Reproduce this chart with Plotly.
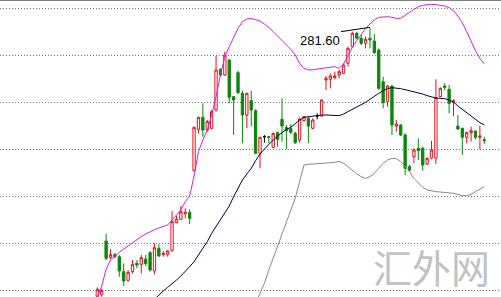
import numpy as np
import plotly.graph_objects as go

# ---- data ----
opens = [241.25, 241.5, 249.55, 247.1, 247.5, 247.2, 244.95, 243.65, 244.95, 246.2,
         246.05, 246.85, 247.8, 245.05, 248.45, 247.5, 247.55, 248.1, 252.3, 252.8,
         253.65, 253.85, 260.1, 266.3, 268.1, 266.2, 266.45, 269.2, 275.3, 274.45,
         276.7, 271.2, 274.8, 271.7, 268.45, 270.6, 269.1, 262.7, 265.2, 265.2,
         263.6, 265.8, 267.8, 266.55, 266.4, 265.7, 264.7, 267.6, 267.95, 266.45,
         268.3, 268.3, 273.7, 273.8, 274.05, 274.45, 274.7, 276.2, 278.7, 280.7,
         279.95, 279.2, 279.95, 279.55, 278.2, 273.45, 270.45, 272.8, 266.8, 266.95,
         265.45, 260.7, 262.2, 263.45, 263.45, 261.1, 262.0, 262.0, 271.2, 272.8,
         272.3, 270.3, 266.8, 266.45, 265.1, 265.8, 266.05, 265.1, 264.75]
highs = [242.6, 242.4, 250.65, 248.3, 247.8, 247.45, 246.2, 245.2, 246.7, 246.7,
         247.45, 247.45, 248.05, 249.2, 249.05, 248.05, 248.2, 254.05, 253.3, 254.8,
         254.45, 254.3, 266.7, 268.2, 270.2, 267.7, 269.2, 277.3, 275.45, 277.95,
         276.8, 271.3, 275.1, 272.1, 271.8, 272.1, 269.3, 265.2, 265.45, 265.3,
         265.8, 265.95, 270.95, 266.95, 267.1, 265.95, 268.1, 268.3, 268.2, 267.95,
         268.7, 270.8, 274.3, 274.7, 274.95, 275.2, 276.2, 278.7, 280.95, 280.95,
         280.45, 280.2, 281.6, 280.6, 278.45, 274.2, 272.95, 272.95, 267.7, 267.1,
         265.7, 260.95, 263.45, 264.95, 263.7, 262.1, 264.6, 273.8, 272.6, 273.2,
         272.95, 270.8, 268.45, 266.55, 265.95, 266.7, 266.1, 266.8, 265.2]
lows = [240.95, 241.2, 246.7, 246.8, 246.95, 244.2, 242.8, 243.45, 244.7, 245.45,
        244.7, 245.8, 244.95, 244.55, 247.2, 247.2, 247.2, 247.95, 252.2, 252.7,
        252.95, 252.1, 259.95, 265.7, 265.2, 265.95, 266.3, 268.95, 274.3, 274.3,
        270.2, 265.45, 271.6, 264.2, 266.45, 266.7, 262.6, 260.45, 264.3, 264.2,
        263.45, 263.7, 264.45, 263.3, 265.6, 264.1, 264.3, 267.45, 264.2, 266.3,
        267.8, 268.2, 272.2, 272.45, 273.8, 273.95, 274.6, 275.7, 278.55, 279.8,
        278.95, 278.45, 278.45, 277.6, 272.2, 269.45, 269.7, 265.45, 265.95, 265.3,
        259.45, 259.95, 261.2, 261.7, 260.1, 260.95, 261.8, 261.1, 271.1, 272.2,
        268.7, 268.3, 266.2, 262.45, 264.2, 264.45, 264.8, 263.3, 264.1]
closes = [242.3, 242.1, 246.95, 247.5, 247.2, 245.05, 243.55, 244.85, 246.05, 245.95,
          247.05, 246.15, 245.2, 248.55, 247.3, 247.7, 248.05, 252.45, 252.85, 253.95,
          253.85, 252.95, 266.6, 268.1, 266.2, 267.45, 268.95, 275.2, 274.45, 277.45,
          271.1, 270.7, 271.8, 268.45, 271.7, 269.2, 262.7, 265.1, 265.2, 265.1,
          265.7, 264.8, 266.8, 266.1, 265.85, 264.3, 267.8, 268.2, 266.8, 267.7,
          268.3, 270.7, 273.95, 274.3, 274.3, 274.95, 275.95, 278.45, 280.7, 279.95,
          279.2, 279.8, 279.7, 277.8, 272.45, 270.3, 272.8, 266.95, 267.1, 265.45,
          260.45, 260.2, 263.2, 263.1, 260.95, 261.95, 263.2, 271.05, 272.45, 272.6,
          270.2, 270.6, 266.35, 265.1, 265.8, 266.1, 265.1, 265.3, 264.6]
doji_idx = [38, 50]

upper_band = [241.15, 242.8, 245.3, 246.7, 247.3, 247.85, 248.35, 248.8, 249.3, 249.8,
              250.2, 250.6, 250.95, 251.25, 251.5, 251.7, 251.95, 252.7, 253.45, 254.2,
              255.45, 256.3, 259.3, 262.95, 264.7, 266.2, 268.45, 271.2, 274.45, 277.2,
              278.7, 280.1, 281.45, 282.45, 282.85, 282.95, 282.8, 282.55, 282.1, 281.6,
              280.95, 280.3, 279.6, 279.05, 278.3, 277.45, 276.2, 275.45, 275.2, 275.25,
              275.35, 275.45, 275.55, 275.65, 275.7, 275.45, 276.1, 277.3, 278.6, 279.6,
              280.6, 281.4, 282.1, 282.7, 283.1, 283.2, 283.2, 283.1, 282.95, 282.95,
              283.35, 283.85, 284.3, 284.7, 284.9, 285.0, 285.05, 285.0, 284.95, 284.8,
              284.55, 284.1, 283.3, 282.3, 280.95, 279.45, 278.1, 276.95, 276.1]
mid_start = 12
mid_band = [240.2, 240.85, 241.4, 242.05, 242.6, 243.1, 243.7, 244.3, 244.95, 245.7,
            246.45, 247.45, 248.3, 249.45, 250.7, 251.7, 252.7, 253.7, 254.8, 256.2,
            257.45, 258.7, 259.6, 260.45, 261.6, 262.6, 263.35, 264.1, 264.7, 265.3,
            265.8, 266.3, 266.6, 267.2, 267.7, 268.1, 268.2, 268.3, 268.35, 268.45,
            268.45, 268.45, 268.45, 268.35, 268.6, 268.95, 269.2, 269.55, 269.95, 270.35,
            270.8, 271.3, 271.7, 272.1, 272.4, 272.55, 272.5, 272.4, 272.25, 272.1,
            271.95, 271.8, 271.6, 271.35, 271.15, 271.0, 270.95, 270.9, 270.7, 270.4,
            269.8, 269.3, 268.8, 268.3, 267.8, 267.3, 266.95]
low_start = 36
lower_band = [240.2, 241.7, 243.2, 245.2, 246.95, 248.7, 250.45, 252.2, 253.95, 255.95,
              258.45, 260.95, 261.05, 261.1, 261.15, 261.2, 261.2, 261.25, 261.35, 261.5,
              261.2, 260.7, 260.1, 259.6, 259.2, 258.95, 259.2, 259.7, 260.45, 261.2,
              261.7, 261.95, 261.9, 261.45, 260.7, 259.95, 258.95, 258.2, 257.6, 257.2,
              257.05, 256.95, 256.9, 256.85, 256.8, 256.7, 256.55, 256.35, 256.35, 256.55,
              256.95, 257.35, 257.7]
grid_levels = [284.4, 277.35, 270.3, 263.25, 256.2, 249.15, 242.1]
watermark = "汇外网"

# ---- figure ----
n = len(opens)
x = np.arange(n)
o, h, l, c = map(np.array, (opens, highs, lows, closes))
is_doji = np.isin(x, doji_idx)
norm = ~is_doji

RED = "#e3121c"
GREEN = "#0b870b"

fig = go.Figure()
fig.add_trace(go.Candlestick(
    x=x[norm], open=o[norm], high=h[norm], low=l[norm], close=c[norm],
    increasing=dict(line=dict(color=RED, width=1), fillcolor="white"),
    decreasing=dict(line=dict(color=GREEN, width=1), fillcolor=GREEN),
    showlegend=False, hoverinfo="skip"))
fig.add_trace(go.Candlestick(
    x=x[is_doji], open=o[is_doji], high=h[is_doji], low=l[is_doji], close=c[is_doji],
    increasing=dict(line=dict(color="black", width=1), fillcolor="black"),
    decreasing=dict(line=dict(color="black", width=1), fillcolor="black"),
    showlegend=False, hoverinfo="skip"))

fig.add_trace(go.Scatter(x=x, y=upper_band, mode="lines",
                         line=dict(color="#d81ed8", width=1), showlegend=False))
fig.add_trace(go.Scatter(x=x[mid_start:mid_start + len(mid_band)], y=mid_band, mode="lines",
                         line=dict(color="#000050", width=1), showlegend=False))
fig.add_trace(go.Scatter(x=x[low_start:low_start + len(lower_band)], y=lower_band, mode="lines",
                         line=dict(color="#8a8a8a", width=1), showlegend=False))

# peak label with leader line
pk = int(np.argmax(h))
peak = float(h[pk])
fig.add_shape(type="line", x0=pk - 6.6, y0=peak - 0.65, x1=pk, y1=peak,
              line=dict(color="black", width=1))
fig.add_annotation(x=pk, y=peak, text=f"{peak:.2f}", showarrow=False,
                   xshift=-50, yshift=-13,
                   font=dict(family="Liberation Sans", size=13, color="black"))

# watermark
fig.add_annotation(xref="paper", yref="paper", x=0.861, y=0.106, text=watermark,
                   xanchor="center", yanchor="middle", showarrow=False,
                   font=dict(family="Noto Sans CJK SC", size=39, color="#c2c2c2"))

# top border
fig.add_shape(type="line", xref="paper", yref="paper", x0=0, x1=1, y0=1, y1=1,
              line=dict(color="#7f7f7f", width=2))

fig.update_layout(
    width=501, height=297, margin=dict(l=0, r=0, t=0, b=0),
    paper_bgcolor="white", plot_bgcolor="white",
    boxgap=0.25,
    xaxis=dict(range=[-22.13, 91.8], showgrid=False, zeroline=False,
               showticklabels=False, ticks="", rangeslider=dict(visible=False)),
    yaxis=dict(range=[241.15, 285.7], tickvals=grid_levels, showticklabels=False,
               ticks="", showgrid=True, gridcolor="#7a7a7a", gridwidth=1,
               griddash="1px,2px", zeroline=False),
)

fig.write_html("out.html", config={"displayModeBar": False})
